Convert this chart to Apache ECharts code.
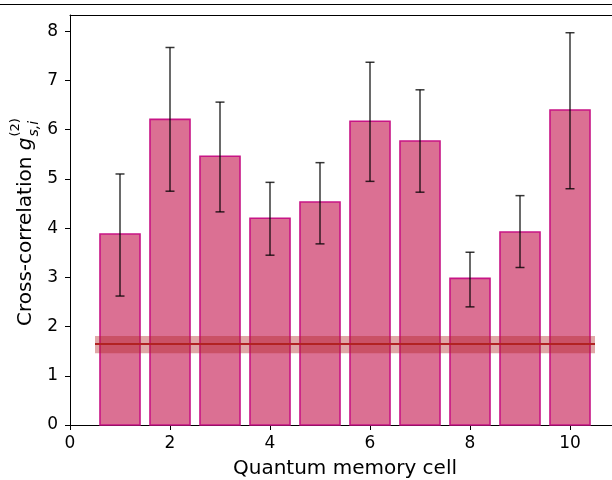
<!DOCTYPE html>
<html>
<head>
<meta charset="utf-8">
<script src="https://cdn.jsdelivr.net/npm/echarts@6/dist/echarts.min.js"></script>
<style>html,body{margin:0;padding:0;background:#fff;}#c{width:612px;height:480px;}</style>
</head>
<body>
<div id="c"></div>
<script>
// ---- data ----
const cells = [1, 2, 3, 4, 5, 6, 7, 8, 9, 10];
const g2 = [3.88, 6.21, 5.46, 4.20, 4.53, 6.17, 5.77, 2.98, 3.92, 6.40];
const errLow = [2.62, 4.75, 4.33, 3.45, 3.68, 4.95, 4.73, 2.40, 3.20, 4.80];
const errHigh = [5.10, 7.67, 6.56, 4.93, 5.33, 7.37, 6.81, 3.51, 4.66, 7.97];
const bandX = [0.5, 10.5];
const bandLow = 1.46;
const bandHigh = 1.81;
const threshold = 1.645;
const xTicks = [0, 2, 4, 6, 8, 10];
const yTicks = [0, 1, 2, 3, 4, 5, 6, 7, 8];

const FONT = '"DejaVu Sans", sans-serif';
const TICK_FS = 17, LABEL_FS = 20;

const barData = cells.map((c, i) => [c, g2[i]]);
const errData = cells.map((c, i) => [c, errLow[i], errHigh[i]]);

const chart = echarts.init(document.getElementById('c'), null, {renderer: 'canvas'});

// measure y-label pieces for layout
const mctx = document.createElement('canvas').getContext('2d');
mctx.font = LABEL_FS + 'px ' + FONT;
const wMain = mctx.measureText('Cross-correlation ').width;
mctx.font = 'italic ' + LABEL_FS + 'px ' + FONT;
const wG = mctx.measureText('g').width;

const option = {
  animation: false,
  grid: {left: 70, top: 15, right: 0, bottom: 55, containLabel: false, outerBoundsMode: 'none'},
  xAxis: [{
    type: 'value', min: 0, max: 10.84, position: 'bottom',
    name: 'Quantum memory cell', nameLocation: 'middle', nameGap: 34,
    nameTextStyle: {color: '#000', fontSize: LABEL_FS, fontFamily: FONT, padding: [0, 0, 0, 8]},
    axisLine: {show: true, onZero: false, lineStyle: {color: '#000', width: 1}},
    axisTick: {show: true, inside: false, length: 5, lineStyle: {color: '#000'}, customValues: xTicks},
    axisLabel: {color: '#000', fontSize: TICK_FS, fontFamily: FONT, margin: 10, customValues: xTicks},
    splitLine: {show: false}
  }, {
    type: 'value', min: 0, max: 10.84, position: 'top',
    axisLine: {show: true, onZero: false, lineStyle: {color: '#000', width: 1}},
    axisTick: {show: false}, axisLabel: {show: false}, splitLine: {show: false}
  }],
  yAxis: {
    type: 'value', min: 0, max: 8.33,
    axisLine: {show: true, onZero: false, lineStyle: {color: '#000', width: 1}},
    axisTick: {show: true, inside: false, length: 5, lineStyle: {color: '#000'}, customValues: yTicks},
    axisLabel: {color: '#000', fontSize: TICK_FS, fontFamily: FONT, margin: 12, customValues: yTicks},
    splitLine: {show: false}
  },
  graphic: [
    {type: 'line', shape: {x1: 0, y1: 4.5, x2: 612, y2: 4.5}, style: {stroke: '#000', lineWidth: 1}},
    {
      type: 'group', x: 26, y: 326, rotation: Math.PI / 2,
      children: [
        {type: 'text', x: 0, y: 0, style: {text: 'Cross-correlation ', fontSize: LABEL_FS, fontFamily: FONT, fill: '#000', verticalAlign: 'middle', align: 'left'}},
        {type: 'text', x: wMain, y: 0, style: {text: 'g', fontSize: LABEL_FS, fontFamily: FONT, fontStyle: 'italic', fill: '#000', verticalAlign: 'middle', align: 'left'}},
        {type: 'text', x: wMain + wG + 1, y: 8, style: {text: 's,i', fontSize: 14, fontFamily: FONT, fontStyle: 'italic', fill: '#000', verticalAlign: 'middle', align: 'left'}},
        {type: 'text', x: wMain + wG + 1, y: -10, style: {text: '(2)', fontSize: 13, fontFamily: FONT, fill: '#000', verticalAlign: 'middle', align: 'left'}}
      ]
    }
  ],
  series: [
    {
      type: 'custom', name: 'bars', data: barData, z: 2,
      renderItem: function (params, api) {
        const x = api.value(0), y = api.value(1);
        const p0 = api.coord([x - 0.4, y]);
        const p1 = api.coord([x + 0.4, 0]);
        return {
          type: 'rect',
          shape: {x: p0[0], y: p0[1], width: p1[0] - p0[0], height: p1[1] - p0[1]},
          style: {fill: '#DB7093', stroke: '#C71585', lineWidth: 1.6}
        };
      }
    },
    {
      type: 'custom', name: 'err', data: errData, z: 3,
      renderItem: function (params, api) {
        const x = api.value(0);
        const lo = api.coord([x, api.value(1)]);
        const hi = api.coord([x, api.value(2)]);
        const st = {stroke: 'rgba(0,0,0,0.78)', lineWidth: 1.5};
        const cap = 4.5;
        return {
          type: 'group',
          children: [
            {type: 'line', shape: {x1: lo[0], y1: lo[1], x2: hi[0], y2: hi[1]}, style: st},
            {type: 'line', shape: {x1: lo[0] - cap, y1: lo[1], x2: lo[0] + cap, y2: lo[1]}, style: st},
            {type: 'line', shape: {x1: hi[0] - cap, y1: hi[1], x2: hi[0] + cap, y2: hi[1]}, style: st}
          ]
        };
      }
    },
    {
      type: 'custom', name: 'band', data: [[bandX[0], bandX[1], bandLow, bandHigh]], z: 4,
      renderItem: function (params, api) {
        const p0 = api.coord([api.value(0), api.value(3)]);
        const p1 = api.coord([api.value(1), api.value(2)]);
        return {
          type: 'rect',
          shape: {x: p0[0], y: p0[1], width: p1[0] - p0[0], height: p1[1] - p0[1]},
          style: {fill: 'rgba(178,34,34,0.4)'}
        };
      }
    },
    {
      type: 'line', name: 'threshold', data: [[bandX[0], threshold], [bandX[1], threshold]],
      symbol: 'none', z: 5,
      lineStyle: {color: '#B22222', width: 2}
    }
  ]
};
chart.setOption(option);
</script>
</body>
</html>
